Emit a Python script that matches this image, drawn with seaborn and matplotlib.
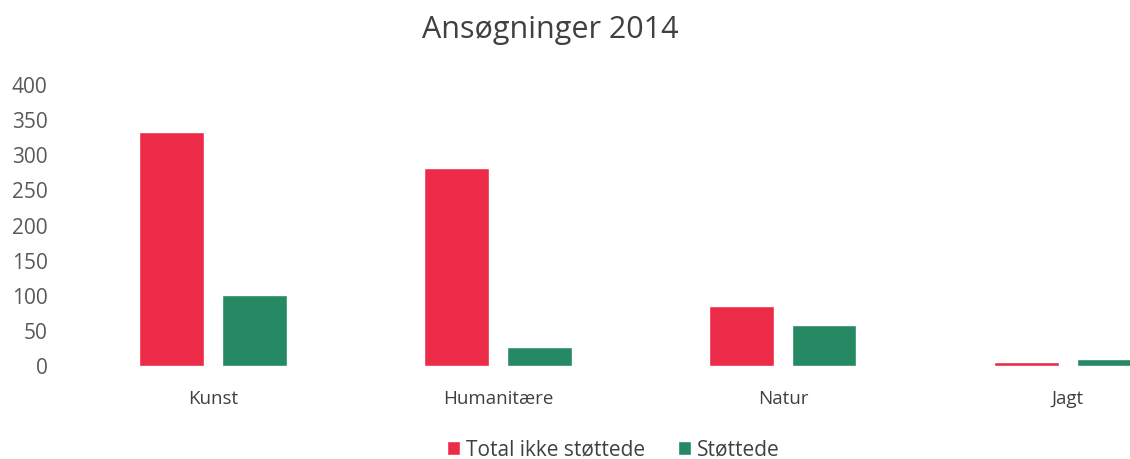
import matplotlib
matplotlib.use("Agg")
import matplotlib.pyplot as plt
import seaborn as sns
import pandas as pd

# Values
categories = ["Kunst", "Humanitære", "Natur", "Jagt"]
ikke_stoettede = [333, 282, 85, 6]
stoettede = [101, 27, 59, 10]
series_names = ["Total ikke støttede", "Støttede"]
y_ticks = [0, 50, 100, 150, 200, 250, 300, 350, 400]

df = pd.DataFrame({
    "Kategori": categories * 2,
    "Antal": ikke_stoettede + stoettede,
    "Serie": [series_names[0]] * len(categories) + [series_names[1]] * len(categories),
})

sns.set_style("white")
plt.rcParams["font.family"] = ["Open Sans", "DejaVu Sans"]

fig = plt.figure(figsize=(11.3, 4.59), dpi=100)
ax = fig.add_axes([0.0531, 0.2026, 0.9469, 0.6122])

sns.barplot(data=df, x="Kategori", y="Antal", hue="Serie",
            palette=["#EC2B48", "#258A64"], width=0.58, gap=0.22,
            saturation=1, ax=ax, legend=True)

ax.set_xlim(-0.537, 3.218)
ax.set_ylim(0, 400)
ax.set_yticks(y_ticks)
ax.set_xlabel("")
ax.set_ylabel("")
sns.despine(ax=ax, left=True, bottom=True)
ax.tick_params(axis="x", length=0, pad=17, labelsize=13.5, labelcolor="#404040")
ax.tick_params(axis="y", length=0, pad=9, labelsize=15, labelcolor="#595959")

fig.text(0.487, 0.935, "Ansøgninger 2014", ha="center", va="center",
         fontsize=22, color="#404040")

handles, labels = ax.get_legend_handles_labels()
ax.get_legend().remove()
fig.legend(handles, labels, loc="center", bbox_to_anchor=(0.543, 0.02),
           ncol=2, frameon=False, fontsize=15, handlelength=0.6,
           handleheight=0.6, handletextpad=0.3, columnspacing=1.6,
           labelcolor="#404040")

fig.savefig("out.png", dpi=100)
plt.close(fig)
